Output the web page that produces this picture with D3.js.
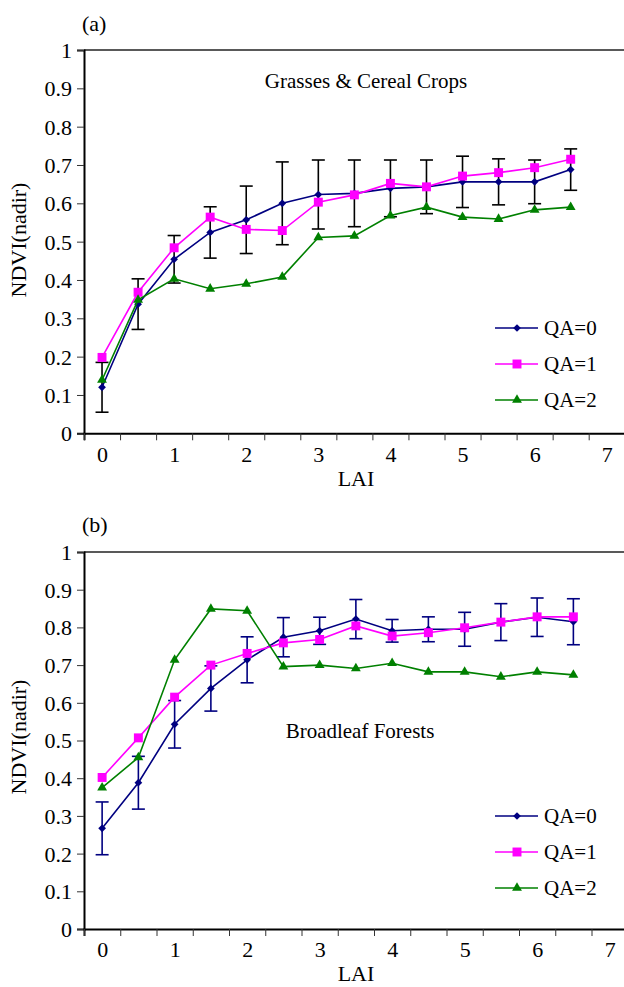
<!DOCTYPE html>
<html>
<head>
<meta charset="utf-8">
<script src="https://cdn.jsdelivr.net/npm/d3@7"></script>
<style>
  body { margin: 0; background: #fff; }
  svg text { font-family: "Liberation Serif", "Times New Roman", serif; fill: #000; }
</style>
</head>
<body>
<div id="chart"></div>
<script>
// LAI categories (half-unit steps)
const laiValues = [0, 0.5, 1, 1.5, 2, 2.5, 3, 3.5, 4, 4.5, 5, 5.5, 6, 6.5]
const xLabels = [0, 1, 2, 3, 4, 5, 6, 7]
const xEdges = [-0.25, 0.25, 0.75, 1.25, 1.75, 2.25, 2.75, 3.25, 3.75, 4.25, 4.75, 5.25, 5.75, 6.25, 6.75, 7.25]
const yTicks = [0, 0.1, 0.2, 0.3, 0.4, 0.5, 0.6, 0.7, 0.8, 0.9, 1]
const seriesNames = ["QA=0", "QA=1", "QA=2"]

// (a) grasses & cereal crops
const grassQA0 = [0.12, 0.337, 0.454, 0.524, 0.557, 0.60, 0.623, 0.626, 0.639, 0.643, 0.656, 0.656, 0.656, 0.688]
const grassQA0Err = [0.065, 0.066, 0.062, 0.067, 0.088, 0.108, 0.09, 0.087, 0.074, 0.07, 0.067, 0.06, 0.057, 0.054]
const grassQA1 = [0.198, 0.368, 0.484, 0.564, 0.532, 0.529, 0.603, 0.622, 0.652, 0.643, 0.671, 0.680, 0.693, 0.715]
const grassQA2 = [0.139, 0.348, 0.403, 0.377, 0.39, 0.408, 0.511, 0.515, 0.568, 0.59, 0.564, 0.559, 0.583, 0.59]

// (b) broadleaf forests
const forestQA0 = [0.267, 0.388, 0.543, 0.638, 0.714, 0.774, 0.791, 0.822, 0.791, 0.795, 0.795, 0.814, 0.827, 0.815]
const forestQA0Err = [0.07, 0.07, 0.063, 0.06, 0.061, 0.052, 0.036, 0.052, 0.03, 0.033, 0.045, 0.049, 0.051, 0.061]
const forestQA1 = [0.402, 0.507, 0.615, 0.70, 0.731, 0.759, 0.768, 0.804, 0.777, 0.786, 0.799, 0.814, 0.828, 0.828]
const forestQA2 = [0.375, 0.455, 0.714, 0.849, 0.844, 0.696, 0.70, 0.691, 0.705, 0.682, 0.682, 0.669, 0.682, 0.674]

const colors = ["#000080", "#ff00ff", "#008000"]
const serif = '"Liberation Serif", "Times New Roman", serif'

const w = 624
const h = 987

const svg = d3.select("#chart").append("svg")
  .attr("width", w)
  .attr("height", h)

const markerPath = i => {
  if (i === 0) return d3.symbol().type(d3.symbolSquare).size(30)()
  if (i === 1) return d3.symbol().type(d3.symbolSquare).size(80)()
  return d3.symbol().type(d3.symbolTriangle).size(42)()
}
const markerRotate = i => i === 0 ? " rotate(45)" : ""

drawPanel = (cfg) => {
  const g = svg.append("g")

  const x = d3.scaleLinear().domain([-0.25, 7.25]).range([cfg.left, cfg.left + 15 * cfg.band])
  const y = d3.scaleLinear().domain([0, 1]).range([cfg.bottom, cfg.top])

  // top border of plot area
  g.append("line")
    .attr("x1", cfg.left).attr("x2", x(7.25))
    .attr("y1", y(1)).attr("y2", y(1))
    .attr("stroke", "#222").attr("stroke-width", 1.5)

  // y axis
  const yAxis = d3.axisLeft(y).tickValues(yTicks).tickSize(7).tickPadding(5)
    .tickFormat(d => d === 0 || d === 1 ? d3.format("d")(d) : d3.format(".1f")(d))
  const ya = g.append("g").attr("transform", `translate(${cfg.left},0)`).call(yAxis)
    .attr("font-family", serif)
  ya.select(".domain").attr("stroke", "#000").attr("stroke-width", 2)
  ya.selectAll(".tick line").attr("stroke", "#333")
  ya.selectAll(".tick text").style("font-size", "22px").style("font-family", serif).attr("dy", "0.34em")

  // x axis: ticks on the category edges, labels on the integer categories
  const xTicksAxis = d3.axisBottom(x).tickValues(xEdges).tickSize(7).tickFormat("")
  const xa = g.append("g").attr("transform", `translate(0,${cfg.bottom})`).call(xTicksAxis)
  xa.select(".domain").attr("stroke", "#000").attr("stroke-width", 2)
  xa.selectAll(".tick line").attr("stroke", "#333")

  const xLabAxis = d3.axisBottom(x).tickValues(xLabels).tickSize(0).tickPadding(cfg.xPad).tickFormat(d3.format("d"))
  const xl = g.append("g").attr("transform", `translate(0,${cfg.bottom})`).call(xLabAxis)
    .attr("font-family", serif)
  xl.select(".domain").remove()
  xl.selectAll(".tick text").style("font-size", "22px").style("font-family", serif)

  // axis titles
  g.append("text")
    .attr("x", 356).attr("y", cfg.laiY)
    .attr("text-anchor", "middle")
    .style("font-size", "22px")
    .text("LAI")

  g.append("text")
    .attr("transform", `translate(26,${cfg.ndviY}) rotate(-90)`)
    .attr("text-anchor", "middle")
    .style("font-size", "22px")
    .text("NDVI(nadir)")

  g.append("text")
    .attr("x", cfg.left - 2).attr("y", cfg.panelY)
    .style("font-size", "22px")
    .text(cfg.panel)

  g.append("text")
    .attr("x", cfg.noteX).attr("y", cfg.noteY)
    .attr("text-anchor", "middle")
    .style("font-size", "21px")
    .text(cfg.note)

  const line = d3.line()
    .x((d, i) => x(laiValues[i]))
    .y(d => y(d))

  cfg.series.forEach((vals, si) => {
    g.append("path")
      .datum(vals)
      .attr("d", line)
      .attr("fill", "none")
      .attr("stroke", colors[si])
      .attr("stroke-width", 1.6)

    if (si === 0) {
      const eb = g.append("g").selectAll("g")
        .data(vals)
        .enter()
        .append("g")
        .attr("stroke", cfg.errColor)
        .attr("stroke-width", 1.6)
      eb.append("line")
        .attr("x1", (d, i) => x(laiValues[i])).attr("x2", (d, i) => x(laiValues[i]))
        .attr("y1", (d, i) => y(d + cfg.err[i])).attr("y2", (d, i) => y(d - cfg.err[i]))
      eb.append("line")
        .attr("x1", (d, i) => x(laiValues[i]) - 6.5).attr("x2", (d, i) => x(laiValues[i]) + 6.5)
        .attr("y1", (d, i) => y(d + cfg.err[i])).attr("y2", (d, i) => y(d + cfg.err[i]))
      eb.append("line")
        .attr("x1", (d, i) => x(laiValues[i]) - 6.5).attr("x2", (d, i) => x(laiValues[i]) + 6.5)
        .attr("y1", (d, i) => y(d - cfg.err[i])).attr("y2", (d, i) => y(d - cfg.err[i]))
    }

    g.append("g").selectAll("path")
      .data(vals)
      .enter()
      .append("path")
      .attr("d", markerPath(si))
      .attr("transform", (d, i) => `translate(${x(laiValues[i])},${y(d)})${markerRotate(si)}`)
      .attr("fill", colors[si])
  })

  // legend
  const lg = g.append("g")
  seriesNames.forEach((name, si) => {
    const ly = cfg.legendY[si]
    lg.append("line")
      .attr("x1", 495).attr("x2", 538)
      .attr("y1", ly).attr("y2", ly)
      .attr("stroke", colors[si]).attr("stroke-width", 1.6)
    lg.append("path")
      .attr("d", markerPath(si))
      .attr("transform", `translate(517,${ly})${markerRotate(si)}`)
      .attr("fill", colors[si])
    lg.append("text")
      .attr("x", 544).attr("y", ly)
      .attr("dy", "0.35em")
      .style("font-size", "21px")
      .text(name)
  })
}

drawPanel({
  panel: "(a)", panelY: 31,
  note: "Grasses & Cereal Crops", noteX: 366, noteY: 88,
  left: 84, band: 36.05, top: 50, bottom: 433.3,
  xPad: 13, laiY: 486, ndviY: 240,
  series: [grassQA0, grassQA1, grassQA2], err: grassQA0Err, errColor: "#000",
  legendY: [328, 364, 400]
})

drawPanel({
  panel: "(b)", panelY: 532,
  note: "Broadleaf Forests", noteX: 360, noteY: 738,
  left: 84, band: 36.25, top: 552, bottom: 929,
  xPad: 12, laiY: 981, ndviY: 737,
  series: [forestQA0, forestQA1, forestQA2], err: forestQA0Err, errColor: "#000080",
  legendY: [816, 852, 888]
})
</script>
</body>
</html>
